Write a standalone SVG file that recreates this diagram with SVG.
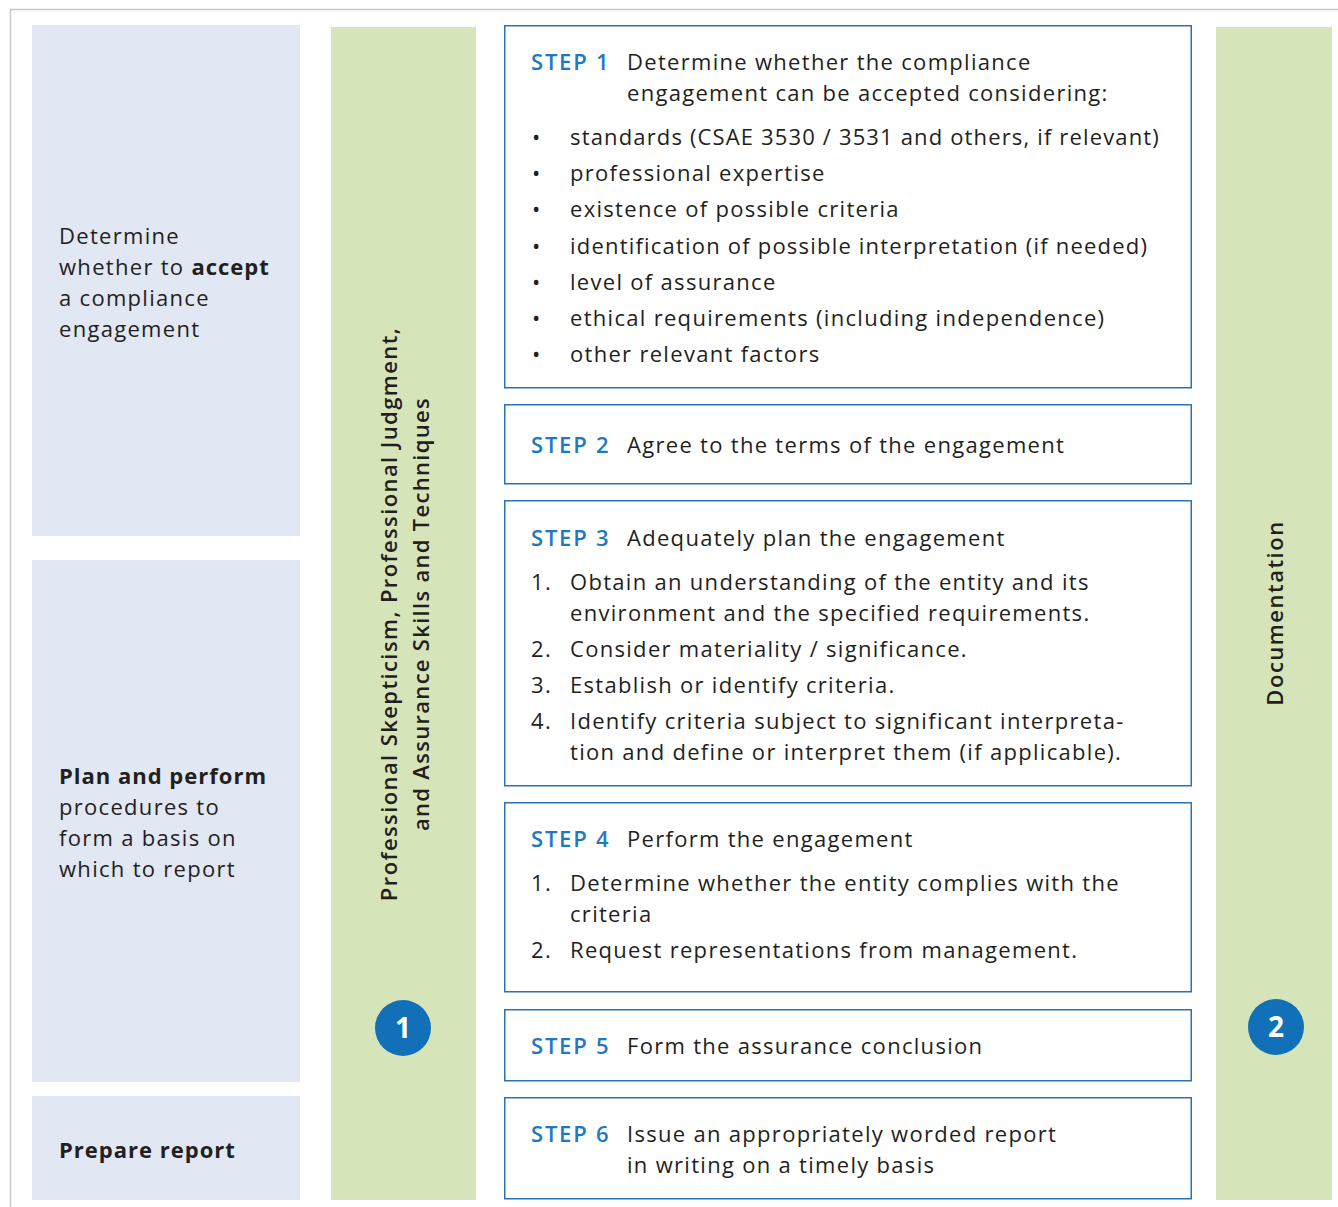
<svg xmlns="http://www.w3.org/2000/svg" width="1338" height="1207" viewBox="0 0 1338 1207">
<style>
.frame{fill:none;stroke:#c8c8c8;stroke-width:1.5}
.phase{fill:#e1e7f3}
.band{fill:#d5e5b9}
.step{fill:#fff;stroke:#2a72b6;stroke-width:1.5}
.t{font-family:"Open Sans","Liberation Sans",sans-serif;font-size:22px;fill:#231f20;letter-spacing:1.3px}
.b{font-weight:700;letter-spacing:1px}
.sb{font-weight:600}
.lab{font-family:"Open Sans","Liberation Sans",sans-serif;font-size:22px;font-weight:600;fill:#1f78c1;letter-spacing:1.8px}
.circ{fill:#1170b8}
.num{font-family:"Open Sans","Liberation Sans",sans-serif;font-size:28px;font-weight:700;fill:#fff}
</style>
<rect width="1338" height="1207" fill="#fff"/>
<path class="frame" d="M1338 9.5H10.5V1207"/>
<g id="phase-accept">
<rect class="phase" x="32" y="25" width="268" height="511"/>
<text class="t" x="59" y="244">Determine</text>
<text class="t" x="59" y="275">whether to <tspan class="b">accept</tspan></text>
<text class="t" x="59" y="306">a compliance</text>
<text class="t" x="59" y="337">engagement</text>
</g>
<g id="phase-plan">
<rect class="phase" x="32" y="560" width="268" height="522"/>
<text class="t b" x="59" y="784">Plan and perform</text>
<text class="t" x="59" y="815">procedures to</text>
<text class="t" x="59" y="846">form a basis on</text>
<text class="t" x="59" y="877">which to report</text>
</g>
<g id="phase-report">
<rect class="phase" x="32" y="1096" width="268" height="104"/>
<text class="t b" x="59" y="1158">Prepare report</text>
</g>
<g id="band-skepticism">
<rect class="band" x="331" y="27" width="145" height="1173"/>
<text class="t sb" style="letter-spacing:1.4px" transform="translate(397,614) rotate(-90)" text-anchor="middle">Professional Skepticism, Professional Judgment,</text>
<text class="t sb" style="letter-spacing:1.3px" transform="translate(429,614) rotate(-90)" text-anchor="middle">and Assurance Skills and Techniques</text>
<circle class="circ" cx="403" cy="1028" r="28"/>
<text class="num" x="403" y="1038" text-anchor="middle">1</text>
</g>
<g id="band-documentation">
<rect class="band" x="1216" y="27" width="116" height="1173"/>
<text class="t sb" style="letter-spacing:1.5px" transform="translate(1283,613) rotate(-90)" text-anchor="middle">Documentation</text>
<circle class="circ" cx="1276" cy="1027" r="28"/>
<text class="num" x="1276" y="1037" text-anchor="middle">2</text>
</g>
<g id="step1">
<rect class="step" x="504.75" y="25.75" width="686.5" height="362"/>
<text class="lab" x="531" y="70">STEP 1</text>
<text class="t" x="627" y="70">Determine whether the compliance</text>
<text class="t" x="627" y="101">engagement can be accepted considering:</text>
<text class="t" x="532" y="145">•</text><text class="t" x="570" y="145" style="letter-spacing:1.15px">standards (CSAE 3530 / 3531 and others, if relevant)</text>
<text class="t" x="532" y="181">•</text><text class="t" x="570" y="181">professional expertise</text>
<text class="t" x="532" y="217">•</text><text class="t" x="570" y="217">existence of possible criteria</text>
<text class="t" x="532" y="254">•</text><text class="t" x="570" y="254" style="letter-spacing:1.2px">identification of possible interpretation (if needed)</text>
<text class="t" x="532" y="290">•</text><text class="t" x="570" y="290">level of assurance</text>
<text class="t" x="532" y="326">•</text><text class="t" x="570" y="326">ethical requirements (including independence)</text>
<text class="t" x="532" y="362">•</text><text class="t" x="570" y="362">other relevant factors</text>
</g>
<g id="step2">
<rect class="step" x="504.75" y="404.75" width="686.5" height="79"/>
<text class="lab" x="531" y="453">STEP 2</text>
<text class="t" x="627" y="453">Agree to the terms of the engagement</text>
</g>
<g id="step3">
<rect class="step" x="504.75" y="500.75" width="686.5" height="285"/>
<text class="lab" x="531" y="546">STEP 3</text>
<text class="t" x="627" y="546">Adequately plan the engagement</text>
<text class="t" x="531" y="590">1.</text><text class="t" x="570" y="590">Obtain an understanding of the entity and its</text>
<text class="t" x="570" y="621">environment and the specified requirements.</text>
<text class="t" x="531" y="657">2.</text><text class="t" x="570" y="657">Consider materiality / significance.</text>
<text class="t" x="531" y="693">3.</text><text class="t" x="570" y="693">Establish or identify criteria.</text>
<text class="t" x="531" y="729">4.</text><text class="t" x="570" y="729">Identify criteria subject to significant interpreta-</text>
<text class="t" x="570" y="760">tion and define or interpret them (if applicable).</text>
</g>
<g id="step4">
<rect class="step" x="504.75" y="802.75" width="686.5" height="189"/>
<text class="lab" x="531" y="847">STEP 4</text>
<text class="t" x="627" y="847">Perform the engagement</text>
<text class="t" x="531" y="891">1.</text><text class="t" x="570" y="891">Determine whether the entity complies with the</text>
<text class="t" x="570" y="922">criteria</text>
<text class="t" x="531" y="958">2.</text><text class="t" x="570" y="958">Request representations from management.</text>
</g>
<g id="step5">
<rect class="step" x="504.75" y="1009.75" width="686.5" height="71"/>
<text class="lab" x="531" y="1054">STEP 5</text>
<text class="t" x="627" y="1054">Form the assurance conclusion</text>
</g>
<g id="step6">
<rect class="step" x="504.75" y="1097.75" width="686.5" height="101"/>
<text class="lab" x="531" y="1142">STEP 6</text>
<text class="t" x="627" y="1142">Issue an appropriately worded report</text>
<text class="t" x="627" y="1173">in writing on a timely basis</text>
</g>
<g id="connectors"/>
</svg>
